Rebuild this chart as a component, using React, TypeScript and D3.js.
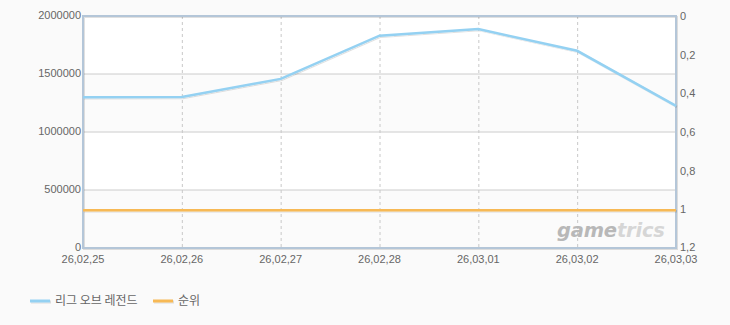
import React from "react";
import * as d3 from "d3";

const dates = ["26,02,25", "26,02,26", "26,02,27", "26,02,28", "26,03,01", "26,03,02", "26,03,03"];
const players = [1300000, 1302000, 1458000, 1830000, 1888000, 1700000, 1225000];
const ranks = [1, 1, 1, 1, 1, 1, 1];
const leftTicks = [0, 500000, 1000000, 1500000, 2000000];
const rightTicks = [0, 0.2, 0.4, 0.6, 0.8, 1, 1.2];
const seriesNames = ["리그 오브 레전드", "순위"];
const seriesColors = ["#94d1f2", "#f7b955"];

const W = 730, H = 325;
const L = 83, R = 676, T = 16, B = 248;

export default function App() {
  const x = d3.scalePoint<string>().domain(dates).range([L, R]);
  const yL = d3.scaleLinear().domain([0, 2000000]).range([B, T]);
  const yR = d3.scaleLinear().domain([0, 1.2]).range([T, B]);
  const lineL = d3.line<number>().x((_, i) => x(dates[i])!).y((d) => yL(d));
  const lineR = d3.line<number>().x((_, i) => x(dates[i])!).y((d) => yR(d) + 1);
  const font = "'Liberation Sans', Arial, sans-serif";
  const bands = leftTicks.slice(0, -1).map((v, i) => ({ y0: yL(leftTicks[i + 1]), y1: yL(v), fill: i % 2 === 0 ? "#fbfbfb" : "#ffffff" }));
  return (
    <svg width={W} height={H} style={{ position: "absolute", left: 0, top: 0 }}>
      <defs>
        <filter id="sh" filterUnits="userSpaceOnUse" x={0} y={0} width={W} height={H}>
          <feDropShadow dx="1" dy="1" stdDeviation="0.6" floodColor="#000" floodOpacity="0.12" />
        </filter>
      </defs>
      <rect width={W} height={H} fill="#fafafa" />
      {bands.map((b, i) => (
        <rect key={i} x={L} y={b.y0} width={R - L} height={b.y1 - b.y0} fill={b.fill} />
      ))}
      {leftTicks.slice(1, -1).map((v) => (
        <line key={v} x1={L} x2={R} y1={yL(v)} y2={yL(v)} stroke="#cccccc" strokeWidth={1} />
      ))}
      {dates.slice(1, -1).map((d) => (
        <line key={d} x1={x(d)! + 0.5} x2={x(d)! + 0.5} y1={T} y2={B} stroke="#c8c8c8" strokeWidth={1} strokeDasharray="3,3" />
      ))}
      <text x={557} y={237} fontFamily="'DejaVu Sans', sans-serif" fontStyle="italic" fontWeight="bold" fontSize={19.5} letterSpacing={-0.2} fill="#b8b8b8">
        game<tspan fill="#d6d6d6">trics</tspan>
      </text>
      <rect x={L} y={T} width={R - L} height={B - T} fill="none" stroke="#b4c6d8" strokeWidth={2} filter="url(#sh)" />
      <path d={lineR(ranks)!} fill="none" stroke={seriesColors[1]} strokeWidth={2.5} filter="url(#sh)" />
      <path d={lineL(players)!} fill="none" stroke={seriesColors[0]} strokeWidth={2.5} filter="url(#sh)" />
      {leftTicks.map((v) => (
        <text key={v} x={L - 2} y={yL(v) + 3} textAnchor="end" fontFamily={font} fontSize={11} fill="#666">{v}</text>
      ))}
      {rightTicks.map((v) => (
        <text key={v} x={R + 4} y={yR(v) + (v === 1.2 ? 3 : 4)} textAnchor="start" fontFamily={font} fontSize={11} fill="#666">{String(v).replace(".", ",")}</text>
      ))}
      {dates.map((d) => (
        <text key={d} x={x(d)} y={B + 15} textAnchor="middle" fontFamily={font} fontSize={11} fill="#666">{d}</text>
      ))}
      {seriesNames.map((n, i) => {
        const lx = i === 0 ? 30 : 153;
        return (
          <g key={n}>
            <line x1={lx} x2={lx + 20} y1={301} y2={301} stroke={seriesColors[i]} strokeWidth={3} filter="url(#sh)" />
            <text x={lx + 25} y={304.5} fontFamily="'Noto Sans CJK KR', sans-serif" fontSize={12} fill="#666">{n}</text>
          </g>
        );
      })}
    </svg>
  );
}
